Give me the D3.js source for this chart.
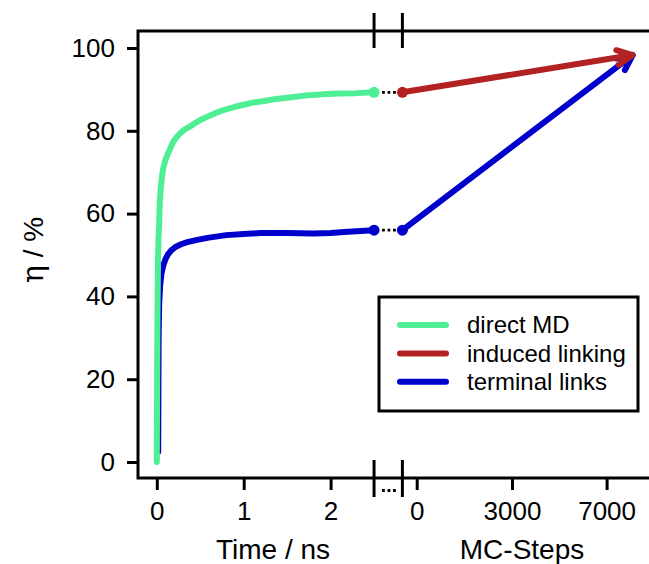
<!DOCTYPE html>
<html lang="en">
<head>
  <meta charset="UTF-8">
  <title>Linking efficiency</title>
  <script src="https://d3js.org/d3.v7.min.js"></script>
  <style>
    body { margin: 0; background: #fff; }
    text { font-family: "Liberation Sans", Arial, sans-serif; fill: #000; }
  </style>
</head>
<body>
  <svg id="chart" width="649" height="564"></svg>

  <script>
    // direct MD (time in ns, eta in %)
    const mdTime = [0, 0.003, 0.006, 0.01, 0.015, 0.02, 0.026, 0.035, 0.045, 0.06, 0.075, 0.1, 0.13, 0.16, 0.19, 0.23, 0.27, 0.32, 0.38, 0.45, 0.52, 0.6, 0.7, 0.8, 0.9, 1.0, 1.1, 1.2, 1.35, 1.5, 1.7, 1.9, 2.1, 2.3, 2.5];
    const mdEta  = [0, 15, 30, 41, 50, 54, 57, 63, 66, 69, 71, 73, 74.6, 76, 77.4, 78.5, 79.4, 80.3, 81, 82, 82.8, 83.6, 84.5, 85.2, 85.8, 86.3, 86.8, 87.1, 87.6, 88, 88.5, 88.8, 89.0, 89.1, 89.3];

    // terminal links during MD
    const tlTime = [0.016, 0.018, 0.021, 0.027, 0.038, 0.054, 0.075, 0.1, 0.13, 0.17, 0.22, 0.28, 0.35, 0.45, 0.6, 0.8, 1.0, 1.2, 1.5, 1.8, 2.0, 2.2, 2.35, 2.5];
    const tlEta  = [2.5, 15, 30, 38, 42.5, 45.6, 47.5, 49, 50.2, 51.2, 52, 52.6, 53.1, 53.6, 54.2, 54.8, 55.1, 55.3, 55.3, 55.2, 55.3, 55.6, 55.8, 56];

    // MC part (start, end)
    const mcSteps = [-450, 8100];
    const mcInduced  = [89.3, 98.3];
    const mcTerminal = [56, 98.3];

    const yTicks = [0, 20, 40, 60, 80, 100];
    const timeTicks = [0, 1, 2];
    const mcTicks = [0, 3000, 7000];
    const timeBreak = 2.5;

    const legendLabels = ["direct MD", "induced linking", "terminal links"];
    const colors = ["#4EEE94", "#B22222", "#0000CD"];

    const svg = d3.select("#chart");

    const y = d3.scaleLinear().domain([0, 100]).range([462, 48]);
    const xT = d3.scaleLinear().domain([0, 2]).range([156.8, 330.6]);
    // MC axis is not evenly spaced in the figure
    const xM = d3.scaleLinear().domain([0, 3000, 7000]).range([416.7, 512, 606.6]);

    const boxL = 138, boxT = 31, boxB = 478, boxR = 649;
    const brk1 = xT(timeBreak), brk2 = xM(mcSteps[0]);
    const lw = 6;

    // box
    svg.append("path")
      .attr("d", `M${boxR},${boxT}H${boxL}V${boxB}H${boxR}`)
      .attr("fill", "none")
      .attr("stroke", "#000")
      .attr("stroke-width", 3)
      .attr("stroke-linejoin", "miter");

    function styleAxis(g) {
      g.select(".domain").remove();
      g.selectAll("line").attr("stroke-width", 3);
      g.selectAll("text").attr("font-size", 26).attr("font-family", "Liberation Sans, Arial, sans-serif");
    }

    // y axis ticks
    svg.append("g")
      .attr("transform", `translate(${boxL},0)`)
      .call(d3.axisLeft(y).tickValues(yTicks).tickSize(11).tickPadding(12))
      .call(styleAxis);

    // x axes
    svg.append("g")
      .attr("transform", `translate(0,${boxB})`)
      .call(d3.axisBottom(xT).tickValues(timeTicks).tickFormat(d3.format("d")).tickSize(12).tickPadding(12))
      .call(styleAxis);

    svg.append("g")
      .attr("transform", `translate(0,${boxB})`)
      .call(d3.axisBottom(xM).tickValues(mcTicks).tickFormat(d3.format("d")).tickSize(12).tickPadding(12))
      .call(styleAxis);

    // axis break marks
    [brk1, brk2].forEach(bx => {
      svg.append("line").attr("x1", bx).attr("x2", bx).attr("y1", 13).attr("y2", 48)
        .attr("stroke", "#000").attr("stroke-width", 3);
      svg.append("line").attr("x1", bx).attr("x2", bx).attr("y1", 460).attr("y2", 497)
        .attr("stroke", "#000").attr("stroke-width", 3);
    });
    svg.append("line")
      .attr("x1", brk1 + 8).attr("x2", brk2 - 6).attr("y1", 490.5).attr("y2", 490.5)
      .attr("stroke", "#000").attr("stroke-width", 2.8)
      .attr("stroke-dasharray", "2.8 2.7");

    // axis titles
    svg.append("text").attr("x", 273).attr("y", 559).attr("text-anchor", "middle")
      .attr("font-size", 28).text("Time / ns");
    svg.append("text").attr("x", 522).attr("y", 559).attr("text-anchor", "middle")
      .attr("font-size", 28).text("MC-Steps");
    const yl = svg.append("text").attr("transform", "translate(43,250) rotate(-90)")
      .attr("text-anchor", "middle").attr("font-size", 28);
    yl.append("tspan").attr("font-family", "DejaVu Serif, serif").attr("font-size", 30).text("η");
    yl.append("tspan").text(" / %");

    // MD curves
    const line = d3.line().x(d => xT(d[0])).y(d => y(d[1]));
    const md = mdTime.map((t, i) => [t, mdEta[i]]);
    const tl = tlTime.map((t, i) => [t, tlEta[i]]);

    svg.append("path").datum(tl)
      .attr("fill", "none").attr("stroke", colors[2]).attr("stroke-width", lw)
      .attr("stroke-linecap", "round").attr("stroke-linejoin", "round")
      .attr("d", line);
    svg.append("path").datum(md)
      .attr("fill", "none").attr("stroke", colors[0]).attr("stroke-width", lw)
      .attr("stroke-linecap", "round").attr("stroke-linejoin", "round")
      .attr("d", line);

    // dotted connectors across the break
    [mdEta[mdEta.length - 1], tlEta[tlEta.length - 1]].forEach(v => {
      svg.append("line")
        .attr("x1", brk1 + 8).attr("x2", brk2 - 6)
        .attr("y1", y(v)).attr("y2", y(v))
        .attr("stroke", "#000").attr("stroke-width", 2.8)
        .attr("stroke-dasharray", "2.8 2.7");
    });

    // MC arrows
    function arrow(vals, color) {
      const x0 = xM(mcSteps[0]), y0 = y(vals[0]);
      const x1 = xM(mcSteps[1]), y1 = y(vals[1]);
      const a = Math.atan2(y1 - y0, x1 - x0);
      const len = 17, spread = Math.PI / 7;
      const p1 = [x1 - len * Math.cos(a - spread), y1 - len * Math.sin(a - spread)];
      const p2 = [x1 - len * Math.cos(a + spread), y1 - len * Math.sin(a + spread)];
      svg.append("path")
        .attr("d", `M${x0},${y0}L${x1},${y1}M${p1[0]},${p1[1]}L${x1},${y1}L${p2[0]},${p2[1]}`)
        .attr("fill", "none").attr("stroke", color).attr("stroke-width", lw)
        .attr("stroke-linecap", "round").attr("stroke-linejoin", "round");
    }
    arrow(mcTerminal, colors[2]);
    arrow(mcInduced, colors[1]);

    // end points
    const dots = [
      [xT(timeBreak), y(mdEta[mdEta.length - 1]), colors[0]],
      [xT(timeBreak), y(tlEta[tlEta.length - 1]), colors[2]],
      [xM(mcSteps[0]), y(mcInduced[0]), colors[1]],
      [xM(mcSteps[0]), y(mcTerminal[0]), colors[2]]
    ];
    svg.selectAll("circle.end")
      .data(dots)
      .join("circle")
      .attr("class", "end")
      .attr("cx", d => d[0]).attr("cy", d => d[1]).attr("r", 5.5)
      .attr("fill", d => d[2]);

    // legend
    const lg = svg.append("g").attr("transform", "translate(379,297)");
    lg.append("rect").attr("width", 259).attr("height", 114)
      .attr("fill", "#fff").attr("stroke", "#000").attr("stroke-width", 3);
    legendLabels.forEach((lab, i) => {
      const ly = 28 + i * 28.4;
      lg.append("line").attr("x1", 21).attr("x2", 67).attr("y1", ly).attr("y2", ly)
        .attr("stroke", colors[i]).attr("stroke-width", lw).attr("stroke-linecap", "round");
      lg.append("text").attr("x", 88).attr("y", ly).attr("dy", "0.35em")
        .attr("font-size", 24).text(lab);
    });
  </script>
</body>
</html>
